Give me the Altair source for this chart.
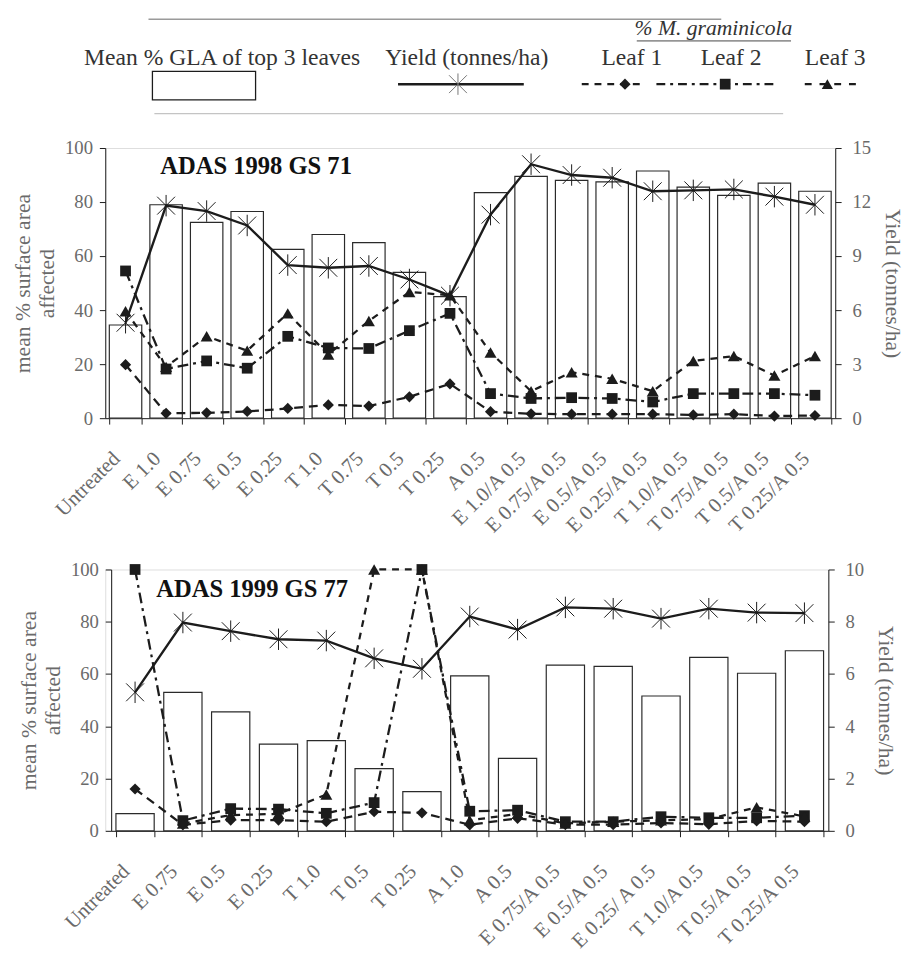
import altair as alt
import pandas as pd

# ---------------- data ----------------
cats98 = ["Untreated", "E 1.0", "E 0.75", "E 0.5", "E 0.25", "T 1.0", "T 0.75", "T 0.5",
          "T 0.25", "A 0.5", "E 1.0/A 0.5", "E 0.75/A 0.5", "E 0.5/A 0.5", "E 0.25/A 0.5",
          "T 1.0/A 0.5", "T 0.75/A 0.5", "T 0.5/A 0.5", "T 0.25/A 0.5"]
gla98 = [34.5, 79, 72.5, 76.5, 62.5, 68, 65, 54, 45, 83.5, 89.5, 88, 87.5, 91.5, 85.5, 82.5, 87, 84]
yield98 = [5.3, 11.8, 11.5, 10.7, 8.5, 8.35, 8.45, 7.7, 6.8, 11.3, 14.1, 13.5, 13.35, 12.6, 12.65,
           12.7, 12.3, 11.85]
leaf1_98 = [19.8, 1.8, 2.0, 2.5, 3.6, 4.9, 4.5, 7.9, 12.7, 2.4, 1.6, 1.5, 1.5, 1.5, 1.2, 1.5, 0.8, 1.0]
leaf2_98 = [54.5, 18.2, 21.2, 18.5, 30.3, 26, 25.8, 32.4, 38.8, 9.1, 7.3, 7.6, 7.3, 6.0, 9.1, 9.1, 9.1, 8.5]
leaf3_98 = [39.6, 19, 30.3, 25, 38.8, 23.6, 36, 46.7, 45.5, 24.3, 10, 17, 14.6, 10, 21.2, 23, 15.8, 23]

cats99 = ["Untreated", "E 0.75", "E 0.5", "E 0.25", "T 1.0", "T 0.5", "T 0.25", "A 1.0", "A 0.5",
          "E 0.75/A 0.5", "E 0.5/A 0.5", "E 0.25/ A 0.5", "T 1.0/A 0.5", "T 0.5/A 0.5", "T 0.25/A 0.5"]
gla99 = [6.6, 53, 45.5, 33.2, 34.5, 23.8, 15, 59.3, 27.7, 63.4, 62.9, 51.6, 66.4, 60.3, 68.9]
yield99 = [5.3, 7.97, 7.64, 7.33, 7.28, 6.6, 6.2, 8.2, 7.7, 8.55, 8.5, 8.12, 8.5, 8.35, 8.33]
leaf1_99 = [16, 2.3, 4.1, 4.1, 3.5, 7.3, 6.9, 2.3, 4.8, 2.4, 2.4, 3.0, 2.5, 3.8, 3.5]
leaf2_99 = [100, 3.9, 8.5, 8.3, 6.7, 10.8, 100, 7.5, 7.9, 3.5, 3.5, 5.4, 5.0, 5.0, 5.8]
leaf3_99 = [None, 2.8, 6.0, 6.5, 13.9, 100, 100, 4.0, 6.5, 2.8, 3.5, 4.0, 4.5, 9.0, 5.5]

legend_labels = ["Mean % GLA of top 3 leaves", "Yield (tonnes/ha)", "Leaf 1", "Leaf 2", "Leaf 3"]
legend_header = "% M. graminicola"

# ---------------- style ----------------
FONT = "Liberation Serif"
GREY = "#6a6a6a"
INK = "#1c1c1c"
STAR = "M-1,-1L1,1M-1,1L1,-1M0,-1.2L0,1.2"


def panel(cats, gla, yld, l1, l2, l3, ymax, ystep, title, w, h, tx, ty, legend=False):
    df = pd.DataFrame({"cat": cats, "gla": gla, "yield": yld,
                       "leaf1": l1, "leaf2": l2, "leaf3": l3})
    xenc = alt.X("cat:N", sort=cats, title=None,
                 scale=alt.Scale(paddingInner=0.2, paddingOuter=0.1),
                 axis=alt.Axis(labelAngle=-45, tickBand="extent", tickSize=6, tickColor=INK,
                               domainColor=INK, labelFont=FONT, labelFontSize=21,
                               labelColor=GREY, labelPadding=24, labelOffset=-17,
                               labelOverlap=False, labelLimit=0))
    base = alt.Chart(df).encode(x=xenc)
    lscale = alt.Scale(domain=[0, 100], nice=False)
    rscale = alt.Scale(domain=[0, ymax], nice=False)
    no_axis = None

    bars = base.mark_bar(fill="white", stroke="#2a2a2a", strokeWidth=1.2).encode(
        y=alt.Y("gla:Q", scale=lscale,
                axis=alt.Axis(values=[0, 20, 40, 60, 80, 100], title=["mean % surface area", "affected"],
                              titleFont=FONT, titleFontSize=22, titleFontWeight="normal",
                              titleColor=GREY, titleLineHeight=25, labelFont=FONT, labelFontSize=19,
                              labelColor=GREY, tickSize=6, tickColor=INK, domainColor=INK,
                              labelPadding=7, titlePadding=6, grid=False)))
    yline = base.mark_line(color=INK, strokeWidth=2.4).encode(
        y=alt.Y("yield:Q", scale=rscale,
                axis=alt.Axis(orient="right", values=list(range(0, ymax + 1, ystep)),
                              title="Yield (tonnes/ha)", titleFont=FONT, titleFontSize=22,
                              titleFontWeight="normal", titleColor=GREY, labelFont=FONT,
                              labelFontSize=19, labelColor=GREY, tickSize=6, tickColor=INK,
                              domainColor=INK, labelPadding=11, titlePadding=10, grid=False)))
    ypts = base.mark_point(shape=STAR, filled=False, size=330, stroke=INK, strokeWidth=1.0,
                           opacity=1).encode(y=alt.Y("yield:Q", scale=rscale, axis=no_axis))

    layers = [bars, yline, ypts]
    styles = [("leaf1", [9, 6], "diamond", 130), ("leaf2", [11, 5, 3, 5], "square", 120),
              ("leaf3", [7, 6], "triangle-up", 150)]
    for field, dash, shape, size in styles:
        layers.append(base.mark_line(color=INK, strokeWidth=2.3, strokeDash=dash).encode(
            y=alt.Y(f"{field}:Q", scale=lscale, axis=no_axis)))
        layers.append(base.mark_point(shape=shape, filled=True, size=size, color=INK,
                                      opacity=1).encode(
            y=alt.Y(f"{field}:Q", scale=lscale, axis=no_axis)))

    tdf = pd.DataFrame({"t": [title]})
    layers.append(alt.Chart(tdf).mark_text(font=FONT, fontSize=25, fontWeight="bold", color="#111",
                                           align="left", baseline="alphabetic").encode(
        x=alt.value(tx), y=alt.value(ty), text="t:N"))

    if legend:
        one = pd.DataFrame({"a": [0]})
        lg = alt.Chart(one)
        ly = -85
        xs = [119, 368, 536, 637, 743]
        for s, xc in zip(legend_labels, xs):
            layers.append(lg.mark_text(text=s, font=FONT, fontSize=24, color="#333",
                                       align="center", baseline="alphabetic").encode(
                x=alt.value(xc), y=alt.value(ly)))
        layers.append(lg.mark_text(text=legend_header, font=FONT, fontSize=22, fontStyle="italic",
                                   color="#333", align="center", baseline="alphabetic").encode(
            x=alt.value(619), y=alt.value(-115)))
        layers.append(lg.mark_rule(color="#444", strokeWidth=1).encode(
            x=alt.value(541), x2=alt.value(698), y=alt.value(-109)))
        layers.append(lg.mark_rule(color="#9a9a9a", strokeWidth=1.5).encode(
            x=alt.value(44), x2=alt.value(627), y=alt.value(-131)))
        layers.append(lg.mark_rule(color="#c4c4c4", strokeWidth=1.2).encode(
            x=alt.value(50), x2=alt.value(690), y=alt.value(-35)))
        layers.append(lg.mark_rect(fill="white", stroke=INK, strokeWidth=1.3).encode(
            x=alt.value(48), x2=alt.value(153), y=alt.value(-78), y2=alt.value(-49)))
        sy = -65
        layers.append(lg.mark_rule(color=INK, strokeWidth=2.6).encode(
            x=alt.value(298), x2=alt.value(426), y=alt.value(sy)))
        layers.append(lg.mark_point(shape=STAR, filled=False, size=330, stroke="#666",
                                    strokeWidth=0.9, opacity=1).encode(x=alt.value(359), y=alt.value(sy)))
        for (x1, x2, mx, shape, size, dash) in [(485, 549, 529, "diamond", 130, [7, 6]),
                                                (561, 680, 631, "square", 120, [9, 5, 3, 5]),
                                                (712, 764, 735, "triangle-up", 130, [7, 8])]:
            layers.append(lg.mark_rule(color=INK, strokeWidth=2.2, strokeDash=dash).encode(
                x=alt.value(x1), x2=alt.value(x2), y=alt.value(sy)))
            layers.append(lg.mark_point(shape=shape, filled=True, size=size, color=INK,
                                        opacity=1).encode(x=alt.value(mx), y=alt.value(sy)))

    return alt.layer(*layers).resolve_scale(y="independent").properties(width=w, height=h)


top = panel(cats98, gla98, yield98, leaf1_98, leaf2_98, leaf3_98, 15, 3, "ADAS 1998 GS 71",
            743, 275, 56, 26, legend=True)
bottom = panel(cats99, gla99, yield99, leaf1_99, leaf2_99, leaf3_99, 10, 2, "ADAS 1999 GS 77",
               730, 266, 46, 28)

spacer = alt.Chart(pd.DataFrame({"a": [0]})).mark_text(text="").encode(
    x=alt.value(0), y=alt.value(0)).properties(width=6, height=266)
bottom_row = alt.hconcat(spacer, bottom, spacing=0, bounds="flush")

chart = alt.vconcat(top, bottom_row, spacing=154, bounds="flush").properties(
    padding={"left": 3, "top": 0, "right": 0, "bottom": 0}
).configure_view(stroke=None).configure(background="white")

chart.save("out.html", embed_options={"renderer": "svg", "actions": False})
